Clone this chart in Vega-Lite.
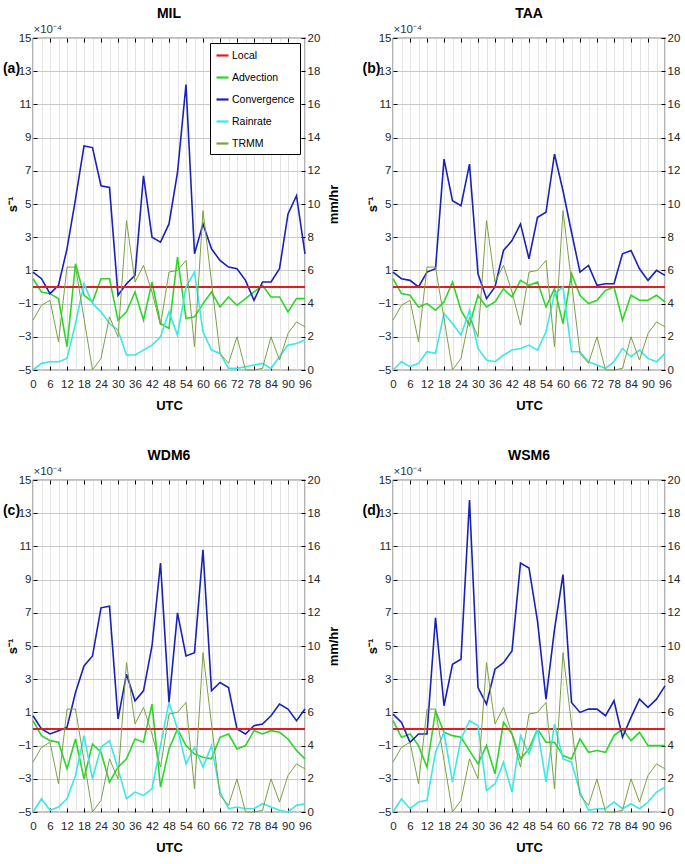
{
  "$schema": "https://vega.github.io/schema/vega-lite/v6.json",
  "padding": {"left": 1, "top": 5, "right": 0, "bottom": 0},
  "background": "#ffffff",
  "config": {
    "font": "Liberation Sans, Arial, sans-serif",
    "view": {"stroke": "#000000", "strokeWidth": 1.2},
    "axis": {"labelFontSize": 11.5, "labelColor": "#262626", "domainColor": "#000000", "tickColor": "#000000", "titleFontWeight": "bold", "titleFontSize": 13, "titleColor": "#000000"},
    "title": {"fontSize": 14, "fontWeight": "bold", "color": "#000000", "offset": 3},
    "concat": {"spacing": 20}
  },
  "datasets": {
    "a": [
      {"utc":0,"Local":0,"Advection":0.5,"Convergence":0.9,"Rainrate":0.0,"TRMM":3.0},
      {"utc":3,"Local":0,"Advection":-0.3,"Convergence":0.5,"Rainrate":0.4,"TRMM":3.9},
      {"utc":6,"Local":0,"Advection":-0.4,"Convergence":-0.4,"Rainrate":0.5,"TRMM":4.2},
      {"utc":9,"Local":0,"Advection":-0.7,"Convergence":0.1,"Rainrate":0.5,"TRMM":1.7},
      {"utc":12,"Local":0,"Advection":-3.6,"Convergence":2.3,"Rainrate":0.7,"TRMM":6.2},
      {"utc":15,"Local":0,"Advection":1.4,"Convergence":5.3,"Rainrate":2.8,"TRMM":6.2},
      {"utc":18,"Local":0,"Advection":-0.5,"Convergence":8.5,"Rainrate":5.2,"TRMM":3.1},
      {"utc":21,"Local":0,"Advection":-0.9,"Convergence":8.4,"Rainrate":4.0,"TRMM":0.0},
      {"utc":24,"Local":0,"Advection":0.5,"Convergence":6.1,"Rainrate":3.5,"TRMM":0.7},
      {"utc":27,"Local":0,"Advection":0.5,"Convergence":6.0,"Rainrate":2.8,"TRMM":3.2},
      {"utc":30,"Local":0,"Advection":-2.0,"Convergence":-0.5,"Rainrate":2.4,"TRMM":2.0},
      {"utc":33,"Local":0,"Advection":-1.5,"Convergence":0.2,"Rainrate":0.9,"TRMM":9.0},
      {"utc":36,"Local":0,"Advection":-0.3,"Convergence":0.7,"Rainrate":0.9,"TRMM":5.3},
      {"utc":39,"Local":0,"Advection":-2.0,"Convergence":6.7,"Rainrate":1.2,"TRMM":6.3},
      {"utc":42,"Local":0,"Advection":0.3,"Convergence":3.0,"Rainrate":1.5,"TRMM":4.7},
      {"utc":45,"Local":0,"Advection":-2.2,"Convergence":2.7,"Rainrate":2.0,"TRMM":2.7},
      {"utc":48,"Local":0,"Advection":-2.5,"Convergence":3.8,"Rainrate":3.5,"TRMM":5.9},
      {"utc":51,"Local":0,"Advection":1.8,"Convergence":6.9,"Rainrate":2.1,"TRMM":6.0},
      {"utc":54,"Local":0,"Advection":-1.9,"Convergence":12.2,"Rainrate":5.0,"TRMM":6.6},
      {"utc":57,"Local":0,"Advection":-1.8,"Convergence":2.0,"Rainrate":5.9,"TRMM":1.4},
      {"utc":60,"Local":0,"Advection":-1.0,"Convergence":3.8,"Rainrate":2.3,"TRMM":9.6},
      {"utc":63,"Local":0,"Advection":-0.3,"Convergence":2.3,"Rainrate":1.2,"TRMM":5.3},
      {"utc":66,"Local":0,"Advection":-1.2,"Convergence":1.6,"Rainrate":1.0,"TRMM":1.0},
      {"utc":69,"Local":0,"Advection":-0.6,"Convergence":1.2,"Rainrate":0.1,"TRMM":0.4},
      {"utc":72,"Local":0,"Advection":-1.1,"Convergence":1.1,"Rainrate":0.1,"TRMM":2.0},
      {"utc":75,"Local":0,"Advection":-0.7,"Convergence":0.4,"Rainrate":0.2,"TRMM":0.0},
      {"utc":78,"Local":0,"Advection":-0.3,"Convergence":-0.8,"Rainrate":0.3,"TRMM":0.0},
      {"utc":81,"Local":0,"Advection":0.1,"Convergence":0.3,"Rainrate":0.4,"TRMM":0.1},
      {"utc":84,"Local":0,"Advection":-0.6,"Convergence":0.3,"Rainrate":0.1,"TRMM":2.0},
      {"utc":87,"Local":0,"Advection":-0.6,"Convergence":1.1,"Rainrate":0.8,"TRMM":0.6},
      {"utc":90,"Local":0,"Advection":-1.5,"Convergence":4.4,"Rainrate":1.5,"TRMM":2.2},
      {"utc":93,"Local":0,"Advection":-0.7,"Convergence":5.5,"Rainrate":1.6,"TRMM":2.9},
      {"utc":96,"Local":0,"Advection":-0.7,"Convergence":2.0,"Rainrate":1.8,"TRMM":2.6}
    ],
    "b": [
      {"utc":0,"Local":0,"Advection":0.5,"Convergence":0.9,"Rainrate":0.0,"TRMM":3.0},
      {"utc":3,"Local":0,"Advection":-0.4,"Convergence":0.5,"Rainrate":0.5,"TRMM":3.9},
      {"utc":6,"Local":0,"Advection":-0.5,"Convergence":0.4,"Rainrate":0.2,"TRMM":4.2},
      {"utc":9,"Local":0,"Advection":-1.2,"Convergence":0.0,"Rainrate":0.4,"TRMM":1.7},
      {"utc":12,"Local":0,"Advection":-1.0,"Convergence":0.9,"Rainrate":1.1,"TRMM":6.2},
      {"utc":15,"Local":0,"Advection":-1.4,"Convergence":1.1,"Rainrate":1.0,"TRMM":6.2},
      {"utc":18,"Local":0,"Advection":-0.9,"Convergence":7.7,"Rainrate":3.4,"TRMM":3.1},
      {"utc":21,"Local":0,"Advection":0.3,"Convergence":5.2,"Rainrate":2.8,"TRMM":0.0},
      {"utc":24,"Local":0,"Advection":-1.4,"Convergence":4.9,"Rainrate":2.1,"TRMM":0.7},
      {"utc":27,"Local":0,"Advection":-2.3,"Convergence":7.4,"Rainrate":3.6,"TRMM":3.2},
      {"utc":30,"Local":0,"Advection":-0.5,"Convergence":0.8,"Rainrate":1.3,"TRMM":2.0},
      {"utc":33,"Local":0,"Advection":-1.2,"Convergence":-0.7,"Rainrate":0.6,"TRMM":9.0},
      {"utc":36,"Local":0,"Advection":-0.9,"Convergence":0.0,"Rainrate":0.5,"TRMM":5.3},
      {"utc":39,"Local":0,"Advection":-0.1,"Convergence":2.2,"Rainrate":0.9,"TRMM":6.3},
      {"utc":42,"Local":0,"Advection":-0.6,"Convergence":2.8,"Rainrate":1.2,"TRMM":4.7},
      {"utc":45,"Local":0,"Advection":0.4,"Convergence":3.8,"Rainrate":1.3,"TRMM":2.7},
      {"utc":48,"Local":0,"Advection":0.1,"Convergence":1.7,"Rainrate":1.5,"TRMM":5.9},
      {"utc":51,"Local":0,"Advection":0.3,"Convergence":4.2,"Rainrate":1.2,"TRMM":6.0},
      {"utc":54,"Local":0,"Advection":-1.2,"Convergence":4.5,"Rainrate":2.3,"TRMM":6.6},
      {"utc":57,"Local":0,"Advection":-0.1,"Convergence":8.0,"Rainrate":4.6,"TRMM":1.4},
      {"utc":60,"Local":0,"Advection":-2.2,"Convergence":5.8,"Rainrate":5.0,"TRMM":9.6},
      {"utc":63,"Local":0,"Advection":0.8,"Convergence":3.3,"Rainrate":1.1,"TRMM":5.3},
      {"utc":66,"Local":0,"Advection":-0.5,"Convergence":0.9,"Rainrate":1.1,"TRMM":1.0},
      {"utc":69,"Local":0,"Advection":-1.0,"Convergence":1.3,"Rainrate":0.5,"TRMM":0.4},
      {"utc":72,"Local":0,"Advection":-0.8,"Convergence":0.1,"Rainrate":0.3,"TRMM":2.0},
      {"utc":75,"Local":0,"Advection":-0.2,"Convergence":0.2,"Rainrate":0.1,"TRMM":0.0},
      {"utc":78,"Local":0,"Advection":0.0,"Convergence":0.2,"Rainrate":0.5,"TRMM":0.0},
      {"utc":81,"Local":0,"Advection":-2.0,"Convergence":2.0,"Rainrate":1.3,"TRMM":0.1},
      {"utc":84,"Local":0,"Advection":-0.5,"Convergence":2.2,"Rainrate":0.8,"TRMM":2.0},
      {"utc":87,"Local":0,"Advection":-0.8,"Convergence":1.1,"Rainrate":1.2,"TRMM":0.6},
      {"utc":90,"Local":0,"Advection":-0.8,"Convergence":0.4,"Rainrate":0.7,"TRMM":2.2},
      {"utc":93,"Local":0,"Advection":-0.5,"Convergence":1.0,"Rainrate":0.5,"TRMM":2.9},
      {"utc":96,"Local":0,"Advection":-0.9,"Convergence":0.7,"Rainrate":1.0,"TRMM":2.6}
    ],
    "c": [
      {"utc":0,"Local":0,"Advection":0.5,"Convergence":0.8,"Rainrate":0.0,"TRMM":3.0},
      {"utc":3,"Local":0,"Advection":-0.4,"Convergence":0.0,"Rainrate":0.8,"TRMM":3.9},
      {"utc":6,"Local":0,"Advection":-0.7,"Convergence":-0.3,"Rainrate":0.1,"TRMM":4.2},
      {"utc":9,"Local":0,"Advection":-0.8,"Convergence":-0.1,"Rainrate":0.3,"TRMM":1.7},
      {"utc":12,"Local":0,"Advection":-2.4,"Convergence":0.1,"Rainrate":0.8,"TRMM":6.2},
      {"utc":15,"Local":0,"Advection":-0.6,"Convergence":2.2,"Rainrate":2.2,"TRMM":6.2},
      {"utc":18,"Local":0,"Advection":-3.0,"Convergence":3.8,"Rainrate":4.6,"TRMM":3.1},
      {"utc":21,"Local":0,"Advection":-0.9,"Convergence":4.4,"Rainrate":2.0,"TRMM":0.0},
      {"utc":24,"Local":0,"Advection":-1.4,"Convergence":7.3,"Rainrate":3.9,"TRMM":0.7},
      {"utc":27,"Local":0,"Advection":-3.2,"Convergence":7.4,"Rainrate":4.3,"TRMM":3.2},
      {"utc":30,"Local":0,"Advection":-2.3,"Convergence":0.6,"Rainrate":2.6,"TRMM":2.0},
      {"utc":33,"Local":0,"Advection":-1.8,"Convergence":3.3,"Rainrate":0.8,"TRMM":9.0},
      {"utc":36,"Local":0,"Advection":-0.6,"Convergence":1.7,"Rainrate":1.2,"TRMM":5.3},
      {"utc":39,"Local":0,"Advection":-0.8,"Convergence":2.3,"Rainrate":1.0,"TRMM":6.3},
      {"utc":42,"Local":0,"Advection":1.5,"Convergence":5.0,"Rainrate":1.4,"TRMM":4.7},
      {"utc":45,"Local":0,"Advection":-3.5,"Convergence":10.0,"Rainrate":4.0,"TRMM":2.7},
      {"utc":48,"Local":0,"Advection":-1.2,"Convergence":1.6,"Rainrate":6.6,"TRMM":5.9},
      {"utc":51,"Local":0,"Advection":0.0,"Convergence":7.0,"Rainrate":5.0,"TRMM":6.0},
      {"utc":54,"Local":0,"Advection":-1.0,"Convergence":4.4,"Rainrate":2.9,"TRMM":6.6},
      {"utc":57,"Local":0,"Advection":-1.5,"Convergence":4.6,"Rainrate":3.9,"TRMM":1.4},
      {"utc":60,"Local":0,"Advection":-1.7,"Convergence":10.8,"Rainrate":2.7,"TRMM":9.6},
      {"utc":63,"Local":0,"Advection":-1.8,"Convergence":2.3,"Rainrate":4.0,"TRMM":5.3},
      {"utc":66,"Local":0,"Advection":-0.5,"Convergence":2.8,"Rainrate":1.2,"TRMM":1.0},
      {"utc":69,"Local":0,"Advection":-0.3,"Convergence":2.5,"Rainrate":0.2,"TRMM":0.4},
      {"utc":72,"Local":0,"Advection":-1.2,"Convergence":0.0,"Rainrate":0.3,"TRMM":2.0},
      {"utc":75,"Local":0,"Advection":-1.0,"Convergence":-0.3,"Rainrate":0.2,"TRMM":0.0},
      {"utc":78,"Local":0,"Advection":-0.1,"Convergence":0.2,"Rainrate":0.2,"TRMM":0.0},
      {"utc":81,"Local":0,"Advection":-0.3,"Convergence":0.3,"Rainrate":0.5,"TRMM":0.1},
      {"utc":84,"Local":0,"Advection":-0.1,"Convergence":0.8,"Rainrate":0.3,"TRMM":2.0},
      {"utc":87,"Local":0,"Advection":-0.2,"Convergence":1.5,"Rainrate":0.1,"TRMM":0.6},
      {"utc":90,"Local":0,"Advection":-0.6,"Convergence":1.2,"Rainrate":0.0,"TRMM":2.2},
      {"utc":93,"Local":0,"Advection":-1.3,"Convergence":0.5,"Rainrate":0.4,"TRMM":2.9},
      {"utc":96,"Local":0,"Advection":-1.8,"Convergence":1.2,"Rainrate":0.5,"TRMM":2.6}
    ],
    "d": [
      {"utc":0,"Local":0,"Advection":0.5,"Convergence":0.9,"Rainrate":0.0,"TRMM":3.0},
      {"utc":3,"Local":0,"Advection":-0.5,"Convergence":0.4,"Rainrate":0.8,"TRMM":3.9},
      {"utc":6,"Local":0,"Advection":-0.3,"Convergence":-0.8,"Rainrate":0.2,"TRMM":4.2},
      {"utc":9,"Local":0,"Advection":-1.0,"Convergence":-0.3,"Rainrate":0.6,"TRMM":1.7},
      {"utc":12,"Local":0,"Advection":-2.3,"Convergence":-0.3,"Rainrate":0.7,"TRMM":6.2},
      {"utc":15,"Local":0,"Advection":1.1,"Convergence":6.7,"Rainrate":3.6,"TRMM":6.2},
      {"utc":18,"Local":0,"Advection":-0.2,"Convergence":1.4,"Rainrate":4.8,"TRMM":3.1},
      {"utc":21,"Local":0,"Advection":-0.4,"Convergence":3.9,"Rainrate":1.8,"TRMM":0.0},
      {"utc":24,"Local":0,"Advection":-0.5,"Convergence":4.2,"Rainrate":4.4,"TRMM":0.7},
      {"utc":27,"Local":0,"Advection":-1.3,"Convergence":13.8,"Rainrate":5.5,"TRMM":3.2},
      {"utc":30,"Local":0,"Advection":-2.1,"Convergence":2.5,"Rainrate":5.2,"TRMM":2.0},
      {"utc":33,"Local":0,"Advection":-1.0,"Convergence":1.5,"Rainrate":1.3,"TRMM":9.0},
      {"utc":36,"Local":0,"Advection":-2.7,"Convergence":3.6,"Rainrate":1.7,"TRMM":5.3},
      {"utc":39,"Local":0,"Advection":0.4,"Convergence":4.0,"Rainrate":3.0,"TRMM":6.3},
      {"utc":42,"Local":0,"Advection":-0.3,"Convergence":4.7,"Rainrate":1.2,"TRMM":4.7},
      {"utc":45,"Local":0,"Advection":-1.8,"Convergence":10.0,"Rainrate":4.6,"TRMM":2.7},
      {"utc":48,"Local":0,"Advection":-1.2,"Convergence":9.7,"Rainrate":3.5,"TRMM":5.9},
      {"utc":51,"Local":0,"Advection":0.0,"Convergence":6.5,"Rainrate":5.0,"TRMM":6.0},
      {"utc":54,"Local":0,"Advection":-0.8,"Convergence":1.8,"Rainrate":1.8,"TRMM":6.6},
      {"utc":57,"Local":0,"Advection":-0.8,"Convergence":6.0,"Rainrate":5.3,"TRMM":1.4},
      {"utc":60,"Local":0,"Advection":-1.6,"Convergence":9.3,"Rainrate":3.2,"TRMM":9.6},
      {"utc":63,"Local":0,"Advection":-1.8,"Convergence":1.6,"Rainrate":3.0,"TRMM":5.3},
      {"utc":66,"Local":0,"Advection":-0.6,"Convergence":1.0,"Rainrate":1.2,"TRMM":1.0},
      {"utc":69,"Local":0,"Advection":-1.4,"Convergence":1.2,"Rainrate":0.1,"TRMM":0.4},
      {"utc":72,"Local":0,"Advection":-1.3,"Convergence":1.2,"Rainrate":0.2,"TRMM":2.0},
      {"utc":75,"Local":0,"Advection":-1.4,"Convergence":0.8,"Rainrate":0.2,"TRMM":0.0},
      {"utc":78,"Local":0,"Advection":-0.4,"Convergence":1.7,"Rainrate":0.6,"TRMM":0.0},
      {"utc":81,"Local":0,"Advection":0.0,"Convergence":-0.5,"Rainrate":0.2,"TRMM":0.1},
      {"utc":84,"Local":0,"Advection":-0.7,"Convergence":0.7,"Rainrate":0.5,"TRMM":2.0},
      {"utc":87,"Local":0,"Advection":-0.2,"Convergence":1.8,"Rainrate":0.2,"TRMM":0.6},
      {"utc":90,"Local":0,"Advection":-1.0,"Convergence":1.3,"Rainrate":0.6,"TRMM":2.2},
      {"utc":93,"Local":0,"Advection":-1.0,"Convergence":1.8,"Rainrate":1.2,"TRMM":2.9},
      {"utc":96,"Local":0,"Advection":-1.0,"Convergence":2.6,"Rainrate":1.5,"TRMM":2.6}
    ]
  },
  "columns": 2,
  "spacing": {"column": 20, "row": 33},
  "resolve": {"scale": {"color": "independent"}, "legend": {"color": "independent"}},
  "concat": [
    {
      "width": 272, "height": 332,
      "title": {"text": "MIL"},
      "data": {"name": "a"},
      "layer": [
        {
          "transform": [{"fold": ["Advection", "Convergence"], "as": ["series", "v"]}],
          "mark": {"type": "line", "strokeWidth": 1.6},
          "encoding": {
            "x": {"field": "utc", "type": "quantitative", "scale": {"domain": [0, 96], "nice": false},
              "axis": {"orient": "bottom", "title": "UTC", "values": [0,3,6,9,12,15,18,21,24,27,30,33,36,39,42,45,48,51,54,57,60,63,66,69,72,75,78,81,84,87,90,93,96], "labelExpr": "datum.value % 6 == 0 ? datum.label : ''", "ticks": false, "labelPadding": 8, "grid": true, "gridColor": "#e4e4e4", "labelFlush": false, "titlePadding": 10, "domain": false}},
            "y": {"field": "v", "type": "quantitative", "scale": {"domain": [-5, 15], "nice": false},
              "axis": {"orient": "left", "title": "s⁻¹", "values": [-5,-3,-1,1,3,5,7,9,11,13,15], "tickSize": -4, "labelPadding": 6, "grid": true, "gridColor": "#c8c8c8", "gridWidth": 1.2, "titleX": -21, "titleY": 166, "titleAlign": "center", "titleBaseline": "middle", "domain": false}},
            "color": {"field": "series", "type": "nominal",
              "scale": {"domain": ["Local", "Advection", "Convergence", "Rainrate", "TRMM"], "range": ["#e31b23", "#2bd62b", "#1a22b5", "#3ae8e8", "#7ca044"]},
              "legend": {"orient": "top-right", "offset": 5, "title": null, "symbolType": "stroke", "symbolStrokeWidth": 2.2, "symbolSize": 144, "labelFontSize": 10.5, "labelColor": "#000000", "fillColor": "#ffffff", "strokeColor": "#000000", "padding": 5, "rowPadding": 9, "labelOffset": 2}}
          }
        },
        {
          "transform": [{"fold": ["Local"], "as": ["series", "v"]}],
          "mark": {"type": "line", "strokeWidth": 2.2},
          "encoding": {
            "x": {"field": "utc", "type": "quantitative", "axis": {"orient": "bottom", "values": [6,12,18,24,30,36,42,48,54,60,66,72,78,84,90], "labels": false, "tickSize": -4, "domain": false, "grid": false, "title": null}},
            "y": {"field": "v", "type": "quantitative", "scale": {"domain": [-5, 15], "nice": false},
              "axis": {"orient": "left", "title": "(a)", "labels": false, "ticks": false, "domain": false, "grid": false, "titleAngle": 0, "titleX": -22, "titleY": 30, "titleAlign": "center", "titleBaseline": "middle", "titleFontSize": 14}},
            "color": {"field": "series", "type": "nominal",
              "scale": {"domain": ["Local", "Advection", "Convergence", "Rainrate", "TRMM"], "range": ["#e31b23", "#2bd62b", "#1a22b5", "#3ae8e8", "#7ca044"]},
              "legend": {"orient": "top-right", "offset": 5, "title": null, "symbolType": "stroke", "symbolStrokeWidth": 2.2, "symbolSize": 144, "labelFontSize": 10.5, "labelColor": "#000000", "fillColor": "#ffffff", "strokeColor": "#000000", "padding": 5, "rowPadding": 9, "labelOffset": 2}}
          }
        },
        {
          "transform": [{"fold": ["Rainrate", "TRMM"], "as": ["series", "v"]}],
          "mark": {"type": "line"},
          "encoding": {
            "x": {"field": "utc", "type": "quantitative",
              "axis": {"orient": "top", "values": [6,12,18,24,30,36,42,48,54,60,66,72,78,84,90], "labels": false, "tickSize": -4, "domain": false, "grid": false, "title": "×10⁻⁴", "titleAnchor": "start", "titleAlign": "left", "titleFontWeight": "normal", "titleFontSize": 11.5, "titleColor": "#333333", "titlePadding": 3}},
            "y": {"field": "v", "type": "quantitative", "scale": {"domain": [0, 20], "nice": false},
              "axis": {"orient": "right", "title": "mm/hr", "values": [0,2,4,6,8,10,12,14,16,18,20], "tickSize": -4, "labelPadding": 6, "grid": false, "titleAngle": 270, "titleX": 28, "titleY": 166, "titleAlign": "center", "titleBaseline": "middle", "domain": false}},
            "color": {"field": "series", "type": "nominal",
              "scale": {"domain": ["Local", "Advection", "Convergence", "Rainrate", "TRMM"], "range": ["#e31b23", "#2bd62b", "#1a22b5", "#3ae8e8", "#7ca044"]},
              "legend": {"orient": "top-right", "offset": 5, "title": null, "symbolType": "stroke", "symbolStrokeWidth": 2.2, "symbolSize": 144, "labelFontSize": 10.5, "labelColor": "#000000", "fillColor": "#ffffff", "strokeColor": "#000000", "padding": 5, "rowPadding": 9, "labelOffset": 2}},
            "strokeWidth": {"field": "series", "type": "nominal", "scale": {"domain": ["Rainrate", "TRMM"], "range": [1.6, 1.0]}, "legend": null}
          }
        }
      ],
      "resolve": {"scale": {"y": "independent"}, "axis": {"x": "independent", "y": "independent"}}
    },
    {
      "width": 272, "height": 332,
      "title": {"text": "TAA"},
      "data": {"name": "b"},
      "layer": [
        {
          "transform": [{"fold": ["Advection", "Convergence"], "as": ["series", "v"]}],
          "mark": {"type": "line", "strokeWidth": 1.6},
          "encoding": {
            "x": {"field": "utc", "type": "quantitative", "scale": {"domain": [0, 96], "nice": false},
              "axis": {"orient": "bottom", "title": "UTC", "values": [0,3,6,9,12,15,18,21,24,27,30,33,36,39,42,45,48,51,54,57,60,63,66,69,72,75,78,81,84,87,90,93,96], "labelExpr": "datum.value % 6 == 0 ? datum.label : ''", "ticks": false, "labelPadding": 8, "grid": true, "gridColor": "#e4e4e4", "labelFlush": false, "titlePadding": 10, "domain": false}},
            "y": {"field": "v", "type": "quantitative", "scale": {"domain": [-5, 15], "nice": false},
              "axis": {"orient": "left", "title": "s⁻¹", "values": [-5,-3,-1,1,3,5,7,9,11,13,15], "tickSize": -4, "labelPadding": 6, "grid": true, "gridColor": "#c8c8c8", "gridWidth": 1.2, "titleX": -21, "titleY": 166, "titleAlign": "center", "titleBaseline": "middle", "domain": false}},
            "color": {"field": "series", "type": "nominal",
              "scale": {"domain": ["Local", "Advection", "Convergence", "Rainrate", "TRMM"], "range": ["#e31b23", "#2bd62b", "#1a22b5", "#3ae8e8", "#7ca044"]}, "legend": null}
          }
        },
        {
          "transform": [{"fold": ["Local"], "as": ["series", "v"]}],
          "mark": {"type": "line", "strokeWidth": 2.2},
          "encoding": {
            "x": {"field": "utc", "type": "quantitative", "axis": {"orient": "bottom", "values": [6,12,18,24,30,36,42,48,54,60,66,72,78,84,90], "labels": false, "tickSize": -4, "domain": false, "grid": false, "title": null}},
            "y": {"field": "v", "type": "quantitative", "scale": {"domain": [-5, 15], "nice": false},
              "axis": {"orient": "left", "title": "(b)", "labels": false, "ticks": false, "domain": false, "grid": false, "titleAngle": 0, "titleX": -22, "titleY": 30, "titleAlign": "center", "titleBaseline": "middle", "titleFontSize": 14}},
            "color": {"field": "series", "type": "nominal",
              "scale": {"domain": ["Local", "Advection", "Convergence", "Rainrate", "TRMM"], "range": ["#e31b23", "#2bd62b", "#1a22b5", "#3ae8e8", "#7ca044"]}, "legend": null}
          }
        },
        {
          "transform": [{"fold": ["Rainrate", "TRMM"], "as": ["series", "v"]}],
          "mark": {"type": "line"},
          "encoding": {
            "x": {"field": "utc", "type": "quantitative",
              "axis": {"orient": "top", "values": [6,12,18,24,30,36,42,48,54,60,66,72,78,84,90], "labels": false, "tickSize": -4, "domain": false, "grid": false, "title": "×10⁻⁴", "titleAnchor": "start", "titleAlign": "left", "titleFontWeight": "normal", "titleFontSize": 11.5, "titleColor": "#333333", "titlePadding": 3}},
            "y": {"field": "v", "type": "quantitative", "scale": {"domain": [0, 20], "nice": false},
              "axis": {"orient": "right", "title": "mm/hr", "values": [0,2,4,6,8,10,12,14,16,18,20], "tickSize": -4, "labelPadding": 6, "grid": false, "titleAngle": 270, "titleX": 28, "titleY": 166, "titleAlign": "center", "titleBaseline": "middle", "domain": false}},
            "color": {"field": "series", "type": "nominal",
              "scale": {"domain": ["Local", "Advection", "Convergence", "Rainrate", "TRMM"], "range": ["#e31b23", "#2bd62b", "#1a22b5", "#3ae8e8", "#7ca044"]}, "legend": null},
            "strokeWidth": {"field": "series", "type": "nominal", "scale": {"domain": ["Rainrate", "TRMM"], "range": [1.6, 1.0]}, "legend": null}
          }
        }
      ],
      "resolve": {"scale": {"y": "independent"}, "axis": {"x": "independent", "y": "independent"}}
    },
    {
      "width": 272, "height": 332,
      "title": {"text": "WDM6"},
      "data": {"name": "c"},
      "layer": [
        {
          "transform": [{"fold": ["Advection", "Convergence"], "as": ["series", "v"]}],
          "mark": {"type": "line", "strokeWidth": 1.6},
          "encoding": {
            "x": {"field": "utc", "type": "quantitative", "scale": {"domain": [0, 96], "nice": false},
              "axis": {"orient": "bottom", "title": "UTC", "values": [0,3,6,9,12,15,18,21,24,27,30,33,36,39,42,45,48,51,54,57,60,63,66,69,72,75,78,81,84,87,90,93,96], "labelExpr": "datum.value % 6 == 0 ? datum.label : ''", "ticks": false, "labelPadding": 8, "grid": true, "gridColor": "#e4e4e4", "labelFlush": false, "titlePadding": 10, "domain": false}},
            "y": {"field": "v", "type": "quantitative", "scale": {"domain": [-5, 15], "nice": false},
              "axis": {"orient": "left", "title": "s⁻¹", "values": [-5,-3,-1,1,3,5,7,9,11,13,15], "tickSize": -4, "labelPadding": 6, "grid": true, "gridColor": "#c8c8c8", "gridWidth": 1.2, "titleX": -21, "titleY": 166, "titleAlign": "center", "titleBaseline": "middle", "domain": false}},
            "color": {"field": "series", "type": "nominal",
              "scale": {"domain": ["Local", "Advection", "Convergence", "Rainrate", "TRMM"], "range": ["#e31b23", "#2bd62b", "#1a22b5", "#3ae8e8", "#7ca044"]}, "legend": null}
          }
        },
        {
          "transform": [{"fold": ["Local"], "as": ["series", "v"]}],
          "mark": {"type": "line", "strokeWidth": 2.2},
          "encoding": {
            "x": {"field": "utc", "type": "quantitative", "axis": {"orient": "bottom", "values": [6,12,18,24,30,36,42,48,54,60,66,72,78,84,90], "labels": false, "tickSize": -4, "domain": false, "grid": false, "title": null}},
            "y": {"field": "v", "type": "quantitative", "scale": {"domain": [-5, 15], "nice": false},
              "axis": {"orient": "left", "title": "(c)", "labels": false, "ticks": false, "domain": false, "grid": false, "titleAngle": 0, "titleX": -22, "titleY": 30, "titleAlign": "center", "titleBaseline": "middle", "titleFontSize": 14}},
            "color": {"field": "series", "type": "nominal",
              "scale": {"domain": ["Local", "Advection", "Convergence", "Rainrate", "TRMM"], "range": ["#e31b23", "#2bd62b", "#1a22b5", "#3ae8e8", "#7ca044"]}, "legend": null}
          }
        },
        {
          "transform": [{"fold": ["Rainrate", "TRMM"], "as": ["series", "v"]}],
          "mark": {"type": "line"},
          "encoding": {
            "x": {"field": "utc", "type": "quantitative",
              "axis": {"orient": "top", "values": [6,12,18,24,30,36,42,48,54,60,66,72,78,84,90], "labels": false, "tickSize": -4, "domain": false, "grid": false, "title": "×10⁻⁴", "titleAnchor": "start", "titleAlign": "left", "titleFontWeight": "normal", "titleFontSize": 11.5, "titleColor": "#333333", "titlePadding": 3}},
            "y": {"field": "v", "type": "quantitative", "scale": {"domain": [0, 20], "nice": false},
              "axis": {"orient": "right", "title": "mm/hr", "values": [0,2,4,6,8,10,12,14,16,18,20], "tickSize": -4, "labelPadding": 6, "grid": false, "titleAngle": 270, "titleX": 28, "titleY": 166, "titleAlign": "center", "titleBaseline": "middle", "domain": false}},
            "color": {"field": "series", "type": "nominal",
              "scale": {"domain": ["Local", "Advection", "Convergence", "Rainrate", "TRMM"], "range": ["#e31b23", "#2bd62b", "#1a22b5", "#3ae8e8", "#7ca044"]}, "legend": null},
            "strokeWidth": {"field": "series", "type": "nominal", "scale": {"domain": ["Rainrate", "TRMM"], "range": [1.6, 1.0]}, "legend": null}
          }
        }
      ],
      "resolve": {"scale": {"y": "independent"}, "axis": {"x": "independent", "y": "independent"}}
    },
    {
      "width": 272, "height": 332,
      "title": {"text": "WSM6"},
      "data": {"name": "d"},
      "layer": [
        {
          "transform": [{"fold": ["Advection", "Convergence"], "as": ["series", "v"]}],
          "mark": {"type": "line", "strokeWidth": 1.6},
          "encoding": {
            "x": {"field": "utc", "type": "quantitative", "scale": {"domain": [0, 96], "nice": false},
              "axis": {"orient": "bottom", "title": "UTC", "values": [0,3,6,9,12,15,18,21,24,27,30,33,36,39,42,45,48,51,54,57,60,63,66,69,72,75,78,81,84,87,90,93,96], "labelExpr": "datum.value % 6 == 0 ? datum.label : ''", "ticks": false, "labelPadding": 8, "grid": true, "gridColor": "#e4e4e4", "labelFlush": false, "titlePadding": 10, "domain": false}},
            "y": {"field": "v", "type": "quantitative", "scale": {"domain": [-5, 15], "nice": false},
              "axis": {"orient": "left", "title": "s⁻¹", "values": [-5,-3,-1,1,3,5,7,9,11,13,15], "tickSize": -4, "labelPadding": 6, "grid": true, "gridColor": "#c8c8c8", "gridWidth": 1.2, "titleX": -21, "titleY": 166, "titleAlign": "center", "titleBaseline": "middle", "domain": false}},
            "color": {"field": "series", "type": "nominal",
              "scale": {"domain": ["Local", "Advection", "Convergence", "Rainrate", "TRMM"], "range": ["#e31b23", "#2bd62b", "#1a22b5", "#3ae8e8", "#7ca044"]}, "legend": null}
          }
        },
        {
          "transform": [{"fold": ["Local"], "as": ["series", "v"]}],
          "mark": {"type": "line", "strokeWidth": 2.2},
          "encoding": {
            "x": {"field": "utc", "type": "quantitative", "axis": {"orient": "bottom", "values": [6,12,18,24,30,36,42,48,54,60,66,72,78,84,90], "labels": false, "tickSize": -4, "domain": false, "grid": false, "title": null}},
            "y": {"field": "v", "type": "quantitative", "scale": {"domain": [-5, 15], "nice": false},
              "axis": {"orient": "left", "title": "(d)", "labels": false, "ticks": false, "domain": false, "grid": false, "titleAngle": 0, "titleX": -22, "titleY": 30, "titleAlign": "center", "titleBaseline": "middle", "titleFontSize": 14}},
            "color": {"field": "series", "type": "nominal",
              "scale": {"domain": ["Local", "Advection", "Convergence", "Rainrate", "TRMM"], "range": ["#e31b23", "#2bd62b", "#1a22b5", "#3ae8e8", "#7ca044"]}, "legend": null}
          }
        },
        {
          "transform": [{"fold": ["Rainrate", "TRMM"], "as": ["series", "v"]}],
          "mark": {"type": "line"},
          "encoding": {
            "x": {"field": "utc", "type": "quantitative",
              "axis": {"orient": "top", "values": [6,12,18,24,30,36,42,48,54,60,66,72,78,84,90], "labels": false, "tickSize": -4, "domain": false, "grid": false, "title": "×10⁻⁴", "titleAnchor": "start", "titleAlign": "left", "titleFontWeight": "normal", "titleFontSize": 11.5, "titleColor": "#333333", "titlePadding": 3}},
            "y": {"field": "v", "type": "quantitative", "scale": {"domain": [0, 20], "nice": false},
              "axis": {"orient": "right", "title": "mm/hr", "values": [0,2,4,6,8,10,12,14,16,18,20], "tickSize": -4, "labelPadding": 6, "grid": false, "titleAngle": 270, "titleX": 28, "titleY": 166, "titleAlign": "center", "titleBaseline": "middle", "domain": false}},
            "color": {"field": "series", "type": "nominal",
              "scale": {"domain": ["Local", "Advection", "Convergence", "Rainrate", "TRMM"], "range": ["#e31b23", "#2bd62b", "#1a22b5", "#3ae8e8", "#7ca044"]}, "legend": null},
            "strokeWidth": {"field": "series", "type": "nominal", "scale": {"domain": ["Rainrate", "TRMM"], "range": [1.6, 1.0]}, "legend": null}
          }
        }
      ],
      "resolve": {"scale": {"y": "independent"}, "axis": {"x": "independent", "y": "independent"}}
    }
  ]
}
